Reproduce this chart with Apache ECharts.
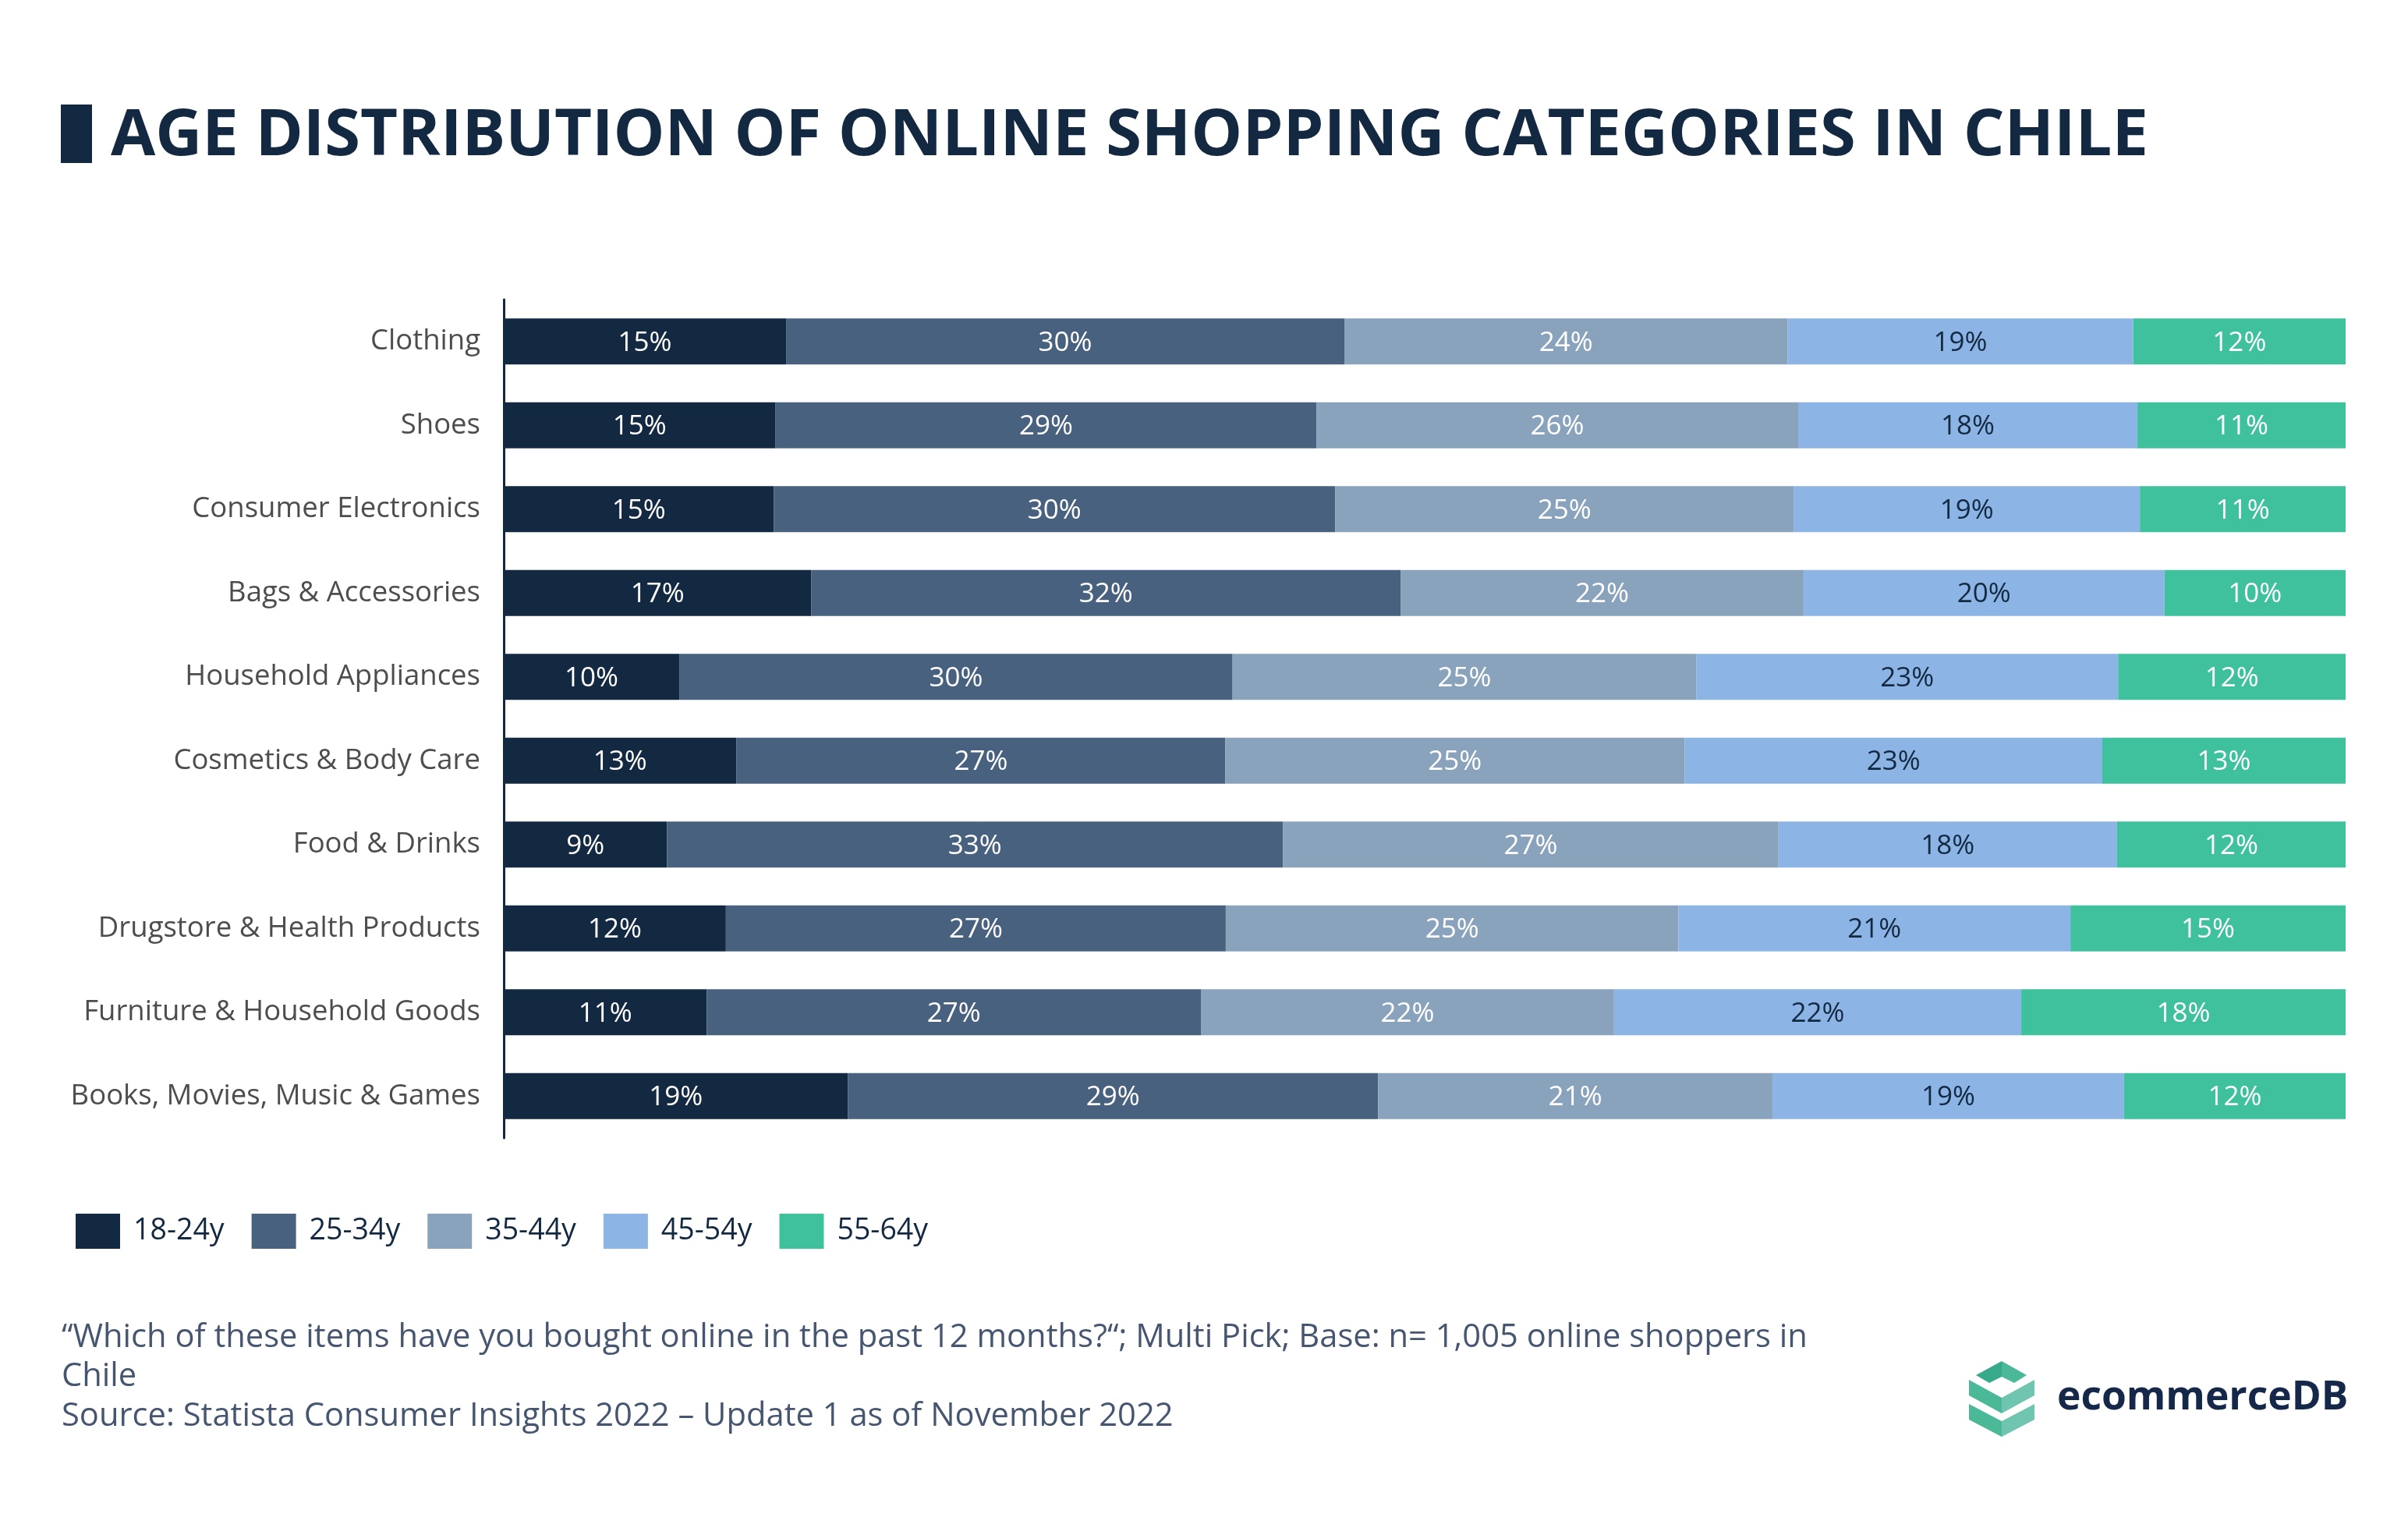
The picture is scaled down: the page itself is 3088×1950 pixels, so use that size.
<!DOCTYPE html>
<html>
<head>
<meta charset="utf-8">
<script src="https://cdn.jsdelivr.net/npm/echarts@6/dist/echarts.min.js"></script>
<style>
html,body{margin:0;padding:0;background:#fff;}
#chart{width:3088px;height:1950px;}
</style>
</head>
<body>
<div id="chart"></div>
<script>
const categories = ['Clothing','Shoes','Consumer Electronics','Bags & Accessories','Household Appliances','Cosmetics & Body Care','Food & Drinks','Drugstore & Health Products','Furniture & Household Goods','Books, Movies, Music & Games'];
const seriesNames = ['18-24y','25-34y','35-44y','45-54y','55-64y'];
const age18_24 = [15.33,14.76,14.66,16.69,9.53,12.64,8.86,12.06,11.02,18.68];
const age25_34 = [30.31,29.36,30.48,32.00,30.04,26.53,33.45,27.14,26.83,28.79];
const age35_44 = [24.06,26.16,24.89,21.88,25.17,24.94,26.90,24.58,22.43,21.41];
const age45_54 = [18.77,18.42,18.80,19.59,22.91,22.68,18.38,21.28,22.11,19.09];
const age55_64 = [11.53,11.31,11.19,9.85,12.36,13.22,12.43,14.94,17.62,12.04];

const seriesData = [age18_24, age25_34, age35_44, age45_54, age55_64];
const colors = ['#132841','#48617e','#8aa3bd','#8cb4e4','#3ec19c'];
const labelColors = ['#ffffff','#ffffff','#ffffff','#132841','#ffffff'];
const FONT = 'Open Sans';

const chart = echarts.init(document.getElementById('chart'), null, {renderer:'canvas'});

const series = seriesNames.map((name, i) => ({
  name: name,
  type: 'bar',
  stack: 'total',
  barWidth: 59,
  data: seriesData[i],
  itemStyle: {color: colors[i]},
  label: {
    show: true,
    position: 'inside',
    offset: [0, 2],
    formatter: p => Math.round(p.value) + '%',
    color: labelColors[i],
    fontFamily: FONT,
    fontSize: 35
  },
  emphasis: {disabled: true}
}));

const footerColor = '#475670';

const option = {
  backgroundColor: '#ffffff',
  animation: false,
  color: colors,
  grid: {left: 646, right: 80, top: 384, bottom: 491, containLabel: false},
  xAxis: {
    type: 'value', min: 0, max: 100, show: false
  },
  yAxis: {
    type: 'category',
    data: categories,
    inverse: true,
    axisLine: {show: true, lineStyle: {color: '#132841', width: 3}},
    axisTick: {show: false},
    axisLabel: {color: '#4d4d4d', fontFamily: FONT, fontSize: 36.5, margin: 30, padding: [8,0,0,0]}
  },
  legend: {
    data: seriesNames,
    left: 97,
    top: 1556,
    padding: 0,
    itemWidth: 57,
    itemHeight: 45,
    itemGap: 35,
    icon: 'rect',
    textStyle: {color: '#132841', fontFamily: FONT, fontSize: 37.5, padding: [0,0,0,12]}
  },
  series: series,
  graphic: [
    {type: 'rect', shape: {x: 78, y: 134, width: 40, height: 75}, style: {fill: '#132841'}},
    {type: 'text', x: 142, y: 175, style: {text: 'AGE DISTRIBUTION OF ONLINE SHOPPING CATEGORIES IN CHILE', fill: '#132841', font: 'bold 83px "Open Sans"', textVerticalAlign: 'middle'}},
    {type: 'text', x: 79, y: 1715, style: {text: '\u201cWhich of these items have you bought online in the past 12 months?\u201c; Multi Pick; Base: n= 1,005 online shoppers in', fill: footerColor, font: '41.7px "Open Sans"', textVerticalAlign: 'middle'}},
    {type: 'text', x: 79, y: 1765, style: {text: 'Chile', fill: footerColor, font: '41.7px "Open Sans"', textVerticalAlign: 'middle'}},
    {type: 'text', x: 79, y: 1816, style: {text: 'Source: Statista Consumer Insights 2022 \u2013 Update 1 as of November 2022', fill: footerColor, font: '41.7px "Open Sans"', textVerticalAlign: 'middle'}},
    {type: 'polygon', shape: {points: [[2534,1763],[2567,1745],[2567,1765],[2551,1773]]}, style: {fill: '#38a98a'}},
    {type: 'polygon', shape: {points: [[2567,1745],[2599,1763],[2583,1773],[2567,1765]]}, style: {fill: '#4bb898'}},
    {type: 'polygon', shape: {points: [[2525,1769],[2567,1792],[2567,1812],[2525,1789]]}, style: {fill: '#4bb898'}},
    {type: 'polygon', shape: {points: [[2567,1792],[2609,1769],[2609,1789],[2567,1812]]}, style: {fill: '#70c5b0'}},
    {type: 'polygon', shape: {points: [[2525,1800],[2567,1822],[2567,1842],[2525,1820]]}, style: {fill: '#4bb898'}},
    {type: 'polygon', shape: {points: [[2567,1822],[2609,1800],[2609,1820],[2567,1842]]}, style: {fill: '#70c5b0'}},
    {type: 'text', x: 2638, y: 1792, style: {text: 'ecommerceDB', fill: '#15284a', font: 'bold 51.5px "Open Sans"', textVerticalAlign: 'middle'}}
  ]
};
chart.setOption(option);
</script>
</body>
</html>
